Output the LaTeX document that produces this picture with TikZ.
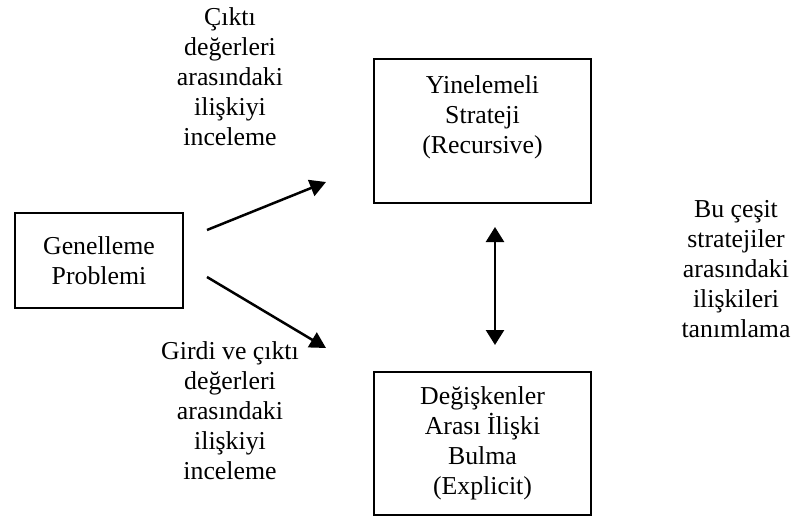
\documentclass[tikz,border=0pt]{standalone}
\usepackage{fontspec}
\setmainfont{Liberation Serif}
\usetikzlibrary{arrows.meta}
\begin{document}
\begin{tikzpicture}[x=1pt,y=-1pt,
  box/.style={draw,line width=2pt,inner sep=0pt},
  txt/.style={align=center,inner sep=0pt,font=\fontsize{25.8}{30}\selectfont},
  arr/.style={line width=2.5pt,-{Triangle[length=16pt,width=17pt]}},
  twoarr/.style={line width=2.5pt,{Triangle[length=15pt,width=18pt]}-{Triangle[length=15pt,width=18pt]}}]
  \useasboundingbox (0,0) rectangle (792,517);
  % Boxes
  \node[box,txt,minimum width=168,minimum height=95] (gen) at (99,260.5) {Genelleme\\Problemi};
  \node[box,minimum width=217,minimum height=144] (rec) at (482.5,131) {};
  \node[txt] (rectxt) at (482.5,117) {Yinelemeli\\Strateji\\(Recursive)};
  \node[box,txt,minimum width=217,minimum height=143] (expl) at (482.5,443.5) {Değişkenler\\Arası İlişki\\Bulma\\ (Explicit)};
  % Side texts
  \node[txt] (cikti) at (230,77) {Çıktı\\değerleri\\arasındaki\\ilişkiyi\\inceleme};
  \node[txt] (girdi) at (230,411) {Girdi ve çıktı\\değerleri\\arasındaki\\ilişkiyi\\inceleme};
  \node[txt] (cesit) at (736,269) {Bu çeşit\\stratejiler\\arasındaki\\ilişkileri\\tanımlama};
  % Arrows
  \coordinate (up0) at (207,230);
  \coordinate (up1) at (326,182);
  \coordinate (dn0) at (207,277);
  \coordinate (dn1) at (326,348);
  \coordinate (mid0) at (495,227);
  \coordinate (mid1) at (495,345);
  \draw[arr] (up0) -- (up1);
  \draw[arr] (dn0) -- (dn1);
  \draw[twoarr] (mid0) -- (mid1);
\end{tikzpicture}
\end{document}
